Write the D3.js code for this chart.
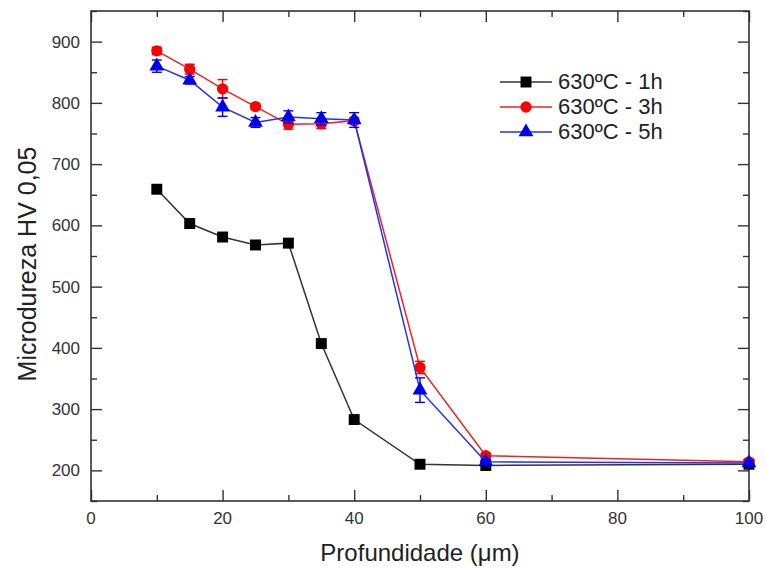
<!DOCTYPE html>
<html>
<head>
<meta charset="utf-8">
<script src="https://cdn.jsdelivr.net/npm/d3@7"></script>
<style>
  body { margin: 0; background: #fff; }
  text { font-family: "Liberation Sans", Arial, sans-serif; }
</style>
</head>
<body>
<div class="chart"></div>
<script>
// depth in micrometres and microhardness per treatment
var depth = [10, 15, 20, 25, 30, 35, 40, 50, 60, 100];
var hv1h = [659, 603, 581, 568, 571, 407, 283, 210, 208, 210];
var hv3h = [885, 855, 823, 794, 765, 766, 771, 368, 224, 214];
var hv5h = [860, 837, 793, 768, 777, 774, 772, 331, 214, 212];
var err3h = [6, 8, 15, 5, 8, 8, 5, 10, 4, 4];
var err5h = [10, 6, 15, 8, 10, 10, 12, 20, 4, 4];
var seriesNames = ["630\u00baC - 1h", "630\u00baC - 3h", "630\u00baC - 5h"];
var xTicks = [0, 20, 40, 60, 80, 100];
var yTicks = [200, 300, 400, 500, 600, 700, 800, 900];

var svgWidth = 766, svgHeight = 568;
var margin = { top: 11, right: 17, bottom: 67, left: 91 };
var width = svgWidth - margin.left - margin.right;
var height = svgHeight - margin.top - margin.bottom;

var svg = d3.select(".chart").append("svg")
  .attr("width", svgWidth)
  .attr("height", svgHeight);

var chartGroup = svg.append("g")
  .attr("transform", `translate(${margin.left}, ${margin.top})`);

var xScale = d3.scaleLinear().domain([0, 100]).range([0, width]);
var yScale = d3.scaleLinear().domain([150, 950]).range([height, 0]);

var axisColor = "#333";

// minor + major ticks, pointing inwards on all four sides
function ticks(axis, values, size) {
  return axis.tickValues(values).tickSize(size).tickFormat("");
}
var xMinor = d3.range(10, 100, 20);
var yMinor = d3.range(150, 951, 100);

var bottomG = chartGroup.append("g").attr("transform", `translate(0, ${height})`);
bottomG.call(ticks(d3.axisTop(xScale), xTicks, 11));
bottomG.append("g").call(ticks(d3.axisTop(xScale), xMinor, 6));
var topG = chartGroup.append("g");
topG.call(ticks(d3.axisBottom(xScale), xTicks, 11));
topG.append("g").call(ticks(d3.axisBottom(xScale), xMinor, 6));
var leftG = chartGroup.append("g");
leftG.call(ticks(d3.axisRight(yScale), yTicks, 11));
leftG.append("g").call(ticks(d3.axisRight(yScale), yMinor, 6));
var rightG = chartGroup.append("g").attr("transform", `translate(${width}, 0)`);
rightG.call(ticks(d3.axisLeft(yScale), yTicks, 11));
rightG.append("g").call(ticks(d3.axisLeft(yScale), yMinor, 6));

chartGroup.selectAll(".domain").remove();
chartGroup.selectAll(".tick line").attr("stroke", axisColor).attr("stroke-width", 1.4);

// tick labels
chartGroup.selectAll(".xlab").data(xTicks).enter().append("text")
  .attr("x", d => xScale(d))
  .attr("y", height + 23)
  .attr("text-anchor", "middle")
  .attr("font-size", "17px")
  .attr("fill", "#333")
  .text(d => d);

chartGroup.selectAll(".ylab").data(yTicks).enter().append("text")
  .attr("x", -11)
  .attr("y", d => yScale(d) + 6)
  .attr("text-anchor", "end")
  .attr("font-size", "17px")
  .attr("fill", "#333")
  .text(d => d);

// frame
chartGroup.append("rect")
  .attr("width", width)
  .attr("height", height)
  .attr("fill", "none")
  .attr("stroke", axisColor)
  .attr("stroke-width", 1.6);

// axis titles
svg.append("text")
  .attr("transform", `translate(36, ${margin.top + height / 2 + 8}) rotate(-90)`)
  .attr("text-anchor", "middle")
  .attr("font-size", "25px")
  .attr("fill", "#222")
  .text("Microdureza HV 0,05");

svg.append("text")
  .attr("x", margin.left + width / 2)
  .attr("y", svgHeight - 7)
  .attr("text-anchor", "middle")
  .attr("font-size", "24px")
  .attr("fill", "#222")
  .text("Profundidade (\u03bcm)");

var series = [
  { name: seriesNames[0], values: hv1h, err: null, color: "#000", line: "#333", shape: d3.symbolSquare, size: 120 },
  { name: seriesNames[1], values: hv3h, err: err3h, color: "#ff0000", line: "#ee2222", shape: d3.symbolCircle, size: 100 },
  { name: seriesNames[2], values: hv5h, err: err5h, color: "#0000ee", line: "#2233ee", shape: d3.symbolTriangle, size: 95 }
];

var line = d3.line()
  .x(d => xScale(d[0]))
  .y(d => yScale(d[1]));

series.forEach(function(s) {
  var pts = depth.map((x, i) => [x, s.values[i], s.err ? s.err[i] : 0]);

  chartGroup.append("path")
    .attr("d", line(pts))
    .attr("fill", "none")
    .attr("stroke", s.line)
    .attr("stroke-width", 1.5);

  if (s.err) {
    var eb = chartGroup.append("g").attr("stroke", s.color).attr("stroke-width", 1.4);
    pts.forEach(function(p) {
      var x = xScale(p[0]);
      var y1 = yScale(p[1] - p[2]), y2 = yScale(p[1] + p[2]);
      eb.append("line").attr("x1", x).attr("x2", x).attr("y1", y1).attr("y2", y2);
      eb.append("line").attr("x1", x - 5).attr("x2", x + 5).attr("y1", y1).attr("y2", y1);
      eb.append("line").attr("x1", x - 5).attr("x2", x + 5).attr("y1", y2).attr("y2", y2);
    });
  }

  chartGroup.selectAll(null).data(pts).enter().append("path")
    .attr("transform", d => `translate(${xScale(d[0])}, ${yScale(d[1])})`)
    .attr("d", d3.symbol().type(s.shape).size(s.size))
    .attr("fill", s.color);
});

// legend
var legend = svg.append("g").attr("transform", "translate(500, 82)");
series.forEach(function(s, i) {
  var g = legend.append("g").attr("transform", `translate(0, ${i * 25})`);
  g.append("line").attr("x1", 0).attr("x2", 52).attr("y1", 0).attr("y2", 0)
    .attr("stroke", s.line).attr("stroke-width", 1.5);
  g.append("path").attr("transform", "translate(26, 0)")
    .attr("d", d3.symbol().type(s.shape).size(s.size))
    .attr("fill", s.color);
  g.append("text").attr("x", 58).attr("y", 7)
    .attr("font-size", "22px")
    .attr("fill", "#222")
    .text(s.name);
});
</script>
</body>
</html>
